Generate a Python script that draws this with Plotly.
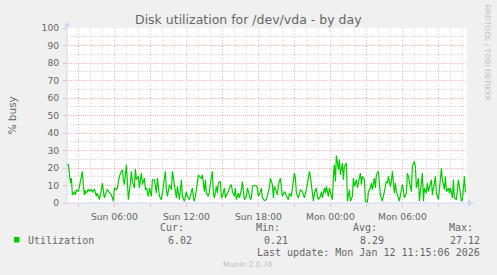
import plotly.graph_objects as go
import pandas as pd

# ---------------- data ----------------
start = pd.Timestamp("2026-01-11 02:00")   # first sample
step_minutes = 5
steps = [0, 2, 4, 5, 6, 8, 9, 10, 12, 13, 14, 16, 17, 18, 19, 20, 22, 23, 25, 26,
         28, 30, 31, 33, 35, 36, 37, 38, 40, 41, 43, 45, 46, 47, 48, 50, 51, 53, 55, 56,
         57, 58, 60, 61, 62, 64, 65, 66, 68, 69, 70, 72, 73, 75, 76, 78, 79, 80, 82, 83,
         85, 86, 88, 90, 91, 93, 95, 96, 98, 99, 100, 101, 103, 105, 106, 110, 111, 113, 115, 116,
         118, 120, 121, 123, 125, 126, 127, 128, 130, 131, 132, 133, 135, 136, 138, 139, 140, 142, 143, 144,
         146, 147, 148, 150, 151, 152, 154, 155, 156, 158, 159, 160, 162, 163, 165, 166, 168, 169, 170, 172,
         173, 175, 176, 177, 178, 180, 181, 182, 184, 185, 186, 188, 190, 191, 192, 194, 195, 196, 198, 200,
         201, 203, 204, 206, 207, 208, 210, 211, 212, 214, 215, 216, 218, 219, 220, 222, 223, 225, 226, 228,
         229, 230, 232, 233, 234, 236, 237, 238, 240, 241, 243, 244, 246, 247, 248, 250, 251, 252, 254, 255,
         256, 258, 259, 260, 262, 263, 265, 266, 267, 268, 269, 270, 272, 273, 274, 276, 277, 278, 280, 281,
         283, 284, 286, 287, 288, 290, 291, 292, 294, 295, 296, 298, 299, 301, 302, 304, 305, 306, 308, 309,
         310, 312, 313, 314, 316, 317, 318, 320, 321, 322, 324, 325, 326, 328, 329, 330, 332, 333, 334, 336,
         337, 338, 340, 341, 342, 344, 345, 346, 348, 349, 350, 352, 353, 354, 356, 357, 358, 360, 361, 362,
         364, 365, 366, 368, 369, 370, 372, 373, 375, 376, 378, 379, 380, 382, 383, 384, 386, 387, 388, 390,
         391, 392, 394, 395, 396, 398, 399]
util = [21.9, 21.9, 11.4, 14.2, 4.6, 6.5, 4.6, 7.6, 6.5, 9.5, 14.2, 18.1, 9.5, 4.6, 7.2, 5.6, 8.0, 6.8, 7.6, 6.1,
        8.0, 3.8, 5.6, 1.9, 7.6, 11.4, 6.5, 2.9, 6.5, 7.6, 6.1, 4.6, 2.9, 1.0, 8.6, 7.6, 8.6, 15.2, 18.1, 19.0,
        13.3, 10.5, 21.9, 10.5, 1.9, 11.4, 18.1, 12.3, 8.6, 19.4, 13.3, 15.2, 8.6, 17.1, 10.5, 14.2, 7.6, 8.6, 3.8, 8.6,
        3.8, 13.3, 13.3, 5.6, 14.2, 3.8, 1.9, 5.6, 13.3, 18.1, 7.6, 3.8, 10.5, 7.6, 18.1, 2.9, 9.5, 1.9, 13.3, 3.8,
        1.0, 6.5, 3.8, 1.9, 6.5, 8.6, 2.9, 1.0, 7.6, 13.3, 16.1, 15.2, 14.2, 16.1, 6.5, 13.3, 5.6, 3.8, 6.5, 11.4,
        18.1, 5.6, 2.9, 9.5, 5.6, 11.4, 12.3, 2.9, 3.8, 8.6, 2.9, 4.6, 6.5, 8.6, 10.5, 6.5, 3.8, 8.6, 1.9, 5.6,
        2.9, 7.6, 12.3, 6.5, 1.9, 3.8, 8.6, 6.5, 1.9, 2.9, 9.5, 10.1, 9.9, 8.6, 3.8, 6.5, 8.6, 2.9, 1.4, 1.9,
        3.8, 8.6, 14.2, 10.5, 2.9, 9.5, 6.5, 4.6, 10.5, 14.2, 8.6, 3.8, 6.5, 5.6, 3.8, 1.9, 5.6, 3.8, 8.6, 17.1,
        14.2, 5.6, 2.9, 4.6, 7.6, 6.5, 3.8, 2.9, 7.6, 10.5, 18.1, 15.2, 3.8, 1.0, 5.6, 8.6, 3.8, 1.9, 3.8, 6.5,
        2.9, 8.6, 5.6, 9.5, 3.8, 8.6, 3.8, 1.9, 15.2, 21.9, 12.3, 27.12, 19.0, 24.8, 16.1, 22.8, 13.3, 20.9, 22.8, 1.0,
        7.6, 1.0, 3.8, 14.2, 9.5, 13.3, 8.6, 11.4, 17.1, 10.5, 15.2, 13.3, 1.0, 0.21, 6.5, 8.6, 11.4, 7.6, 14.2, 8.6,
        16.1, 18.1, 9.5, 4.6, 1.0, 3.8, 6.5, 12.3, 11.4, 15.2, 9.5, 12.3, 18.1, 5.6, 11.4, 6.5, 2.9, 1.0, 4.6, 10.5,
        7.6, 2.9, 5.6, 17.1, 15.2, 8.6, 6.5, 20.9, 23.8, 20.9, 8.6, 14.2, 1.0, 6.5, 17.1, 1.0, 8.6, 5.6, 11.4, 6.5,
        11.4, 13.3, 4.6, 13.3, 15.2, 5.6, 1.9, 7.6, 20.0, 13.3, 7.6, 15.2, 6.5, 8.6, 5.6, 8.6, 2.9, 13.3, 2.9, 1.9,
        6.5, 13.3, 5.6, 1.0, 1.9, 15.2, 6.02]

title = "Disk utilization for /dev/vda - by day"
y_title = "% busy"
series_name = "Utilization"
stat_labels = ["Cur:", "Min:", "Avg:", "Max:"]
stat_values = ["6.02", "0.21", "8.29", "27.12"]
last_update = "Last update: Mon Jan 12 11:15:06 2026"
footer = "Munin 2.0.76"
watermark = "RRDTOOL / TOBI OETIKER"

y_ticks = list(range(0, 101, 10))
x_start = pd.Timestamp("2026-01-11 02:03")
x_end = x_start + pd.Timedelta(minutes=2000)
major_times = pd.date_range("2026-01-11 03:00", "2026-01-12 09:00", freq="3h")
tick_text = [t.strftime("%a %H:%M") if t.hour % 6 == 0 else "" for t in major_times]

# ---------------- layout helpers ----------------
W, H = 497, 275
L, R, T, B = 67, 30, 28, 72
PW, PH = W - L - R, H - T - B


def px(x):
    return (x - L) / PW


def py(y):
    return (H - B - y) / PH


FONT = "DejaVu Sans"
MONO = "DejaVu Sans Mono"
FC = "#666666"
RED = "#f6b8b8"
GRAY = "#d8d8d8"
AXIS = "#CFD6F8"
GREEN = "#00CC00"

times = start + pd.to_timedelta([s * step_minutes for s in steps], unit="min")

fig = go.Figure()
fig.add_trace(go.Scatter(x=times, y=util, mode="lines",
                         line=dict(color=GREEN, width=1.2), name=series_name,
                         showlegend=False, hoverinfo="skip"))

fig.update_layout(
    width=W, height=H, margin=dict(l=L, r=R, t=T, b=B, pad=0),
    paper_bgcolor="#F0F0F0", plot_bgcolor="#FFFFFF",
    font=dict(family=FONT, size=9.2, color=FC),
    showlegend=False,
)

fig.update_xaxes(
    type="date", range=[x_start, x_end],
    tickmode="array", tickvals=major_times, ticktext=tick_text,
    showgrid=True, gridcolor=RED, griddash="1px,2px", gridwidth=1,
    ticks="outside", ticklen=3, tickcolor=RED, tickwidth=1,
    minor=dict(tickmode="linear", tick0="2026-01-11 00:00", dtick=3600000,
               showgrid=True, gridcolor=GRAY, griddash="1px,2px", gridwidth=1,
               ticks=""),
    showline=False, zeroline=False,
    tickfont=dict(family=FONT, size=9.2, color=FC),
    ticklabelstandoff=2,
)
fig.update_yaxes(
    range=[0, 100], tickmode="array", tickvals=y_ticks,
    ticktext=[str(v) for v in y_ticks],
    showgrid=True, gridcolor=RED, griddash="1px,1px", gridwidth=1,
    ticks="outside", ticklen=3, tickcolor=RED, tickwidth=1,
    minor=dict(tickmode="linear", tick0=0, dtick=5, showgrid=True,
               gridcolor=GRAY, griddash="1px,1px", gridwidth=1, ticks=""),
    showline=False, zeroline=False,
    tickfont=dict(family=FONT, size=9.2, color=FC),
    ticklabelstandoff=2,
)

shapes = [
    # axes
    dict(type="line", xref="paper", yref="paper", x0=px(67), x1=px(67), y0=py(203), y1=py(25),
         line=dict(color=AXIS, width=1), layer="above"),
    dict(type="line", xref="paper", yref="paper", x0=px(67), x1=px(469), y0=py(203), y1=py(203),
         line=dict(color=AXIS, width=1), layer="above"),
    # arrows
    dict(type="path", xref="paper", yref="paper",
         path=f"M {px(63.5)} {py(26.5)} L {px(70.5)} {py(26.5)} L {px(67)} {py(21.5)} Z",
         fillcolor=AXIS, line=dict(width=0), layer="above"),
    dict(type="path", xref="paper", yref="paper",
         path=f"M {px(468)} {py(199.5)} L {px(468)} {py(206.5)} L {px(473.5)} {py(203)} Z",
         fillcolor=AXIS, line=dict(width=0), layer="above"),
    # legend swatch
    dict(type="rect", xref="paper", yref="paper", x0=px(14), x1=px(19.5), y0=py(237), y1=py(242.5),
         fillcolor=GREEN, line=dict(width=0)),
]
fig.update_layout(shapes=shapes)

ann = []
ann.append(dict(text=title, x=px(248), y=py(19.5), xref="paper", yref="paper",
                xanchor="center", yanchor="middle", showarrow=False,
                font=dict(family=FONT, size=12.5, color=FC)))
ann.append(dict(text=y_title, x=px(11), y=py(115.5), xref="paper", yref="paper",
                xanchor="center", yanchor="middle", textangle=-90, showarrow=False,
                font=dict(family=FONT, size=10.5, color=FC)))
ann.append(dict(text=watermark, x=px(487.5), y=py(53), xref="paper", yref="paper",
                xanchor="center", yanchor="middle", textangle=90, showarrow=False,
                font=dict(family=FONT, size=7.5, color="#c0c0c0")))
ann.append(dict(text=series_name, x=px(26), y=py(240), xref="paper", yref="paper",
                xanchor="left", yanchor="middle", showarrow=False,
                font=dict(family=MONO, size=10, color=FC)))
label_left = [158.3, 254.3, 351, 446.7]
value_right = [194, 290, 386, 482.3]
for lab, xl in zip(stat_labels, label_left):
    ann.append(dict(text=lab, x=px(xl), y=py(227.5), xref="paper", yref="paper",
                    xanchor="left", yanchor="middle", showarrow=False,
                    font=dict(family=MONO, size=10, color=FC)))
for val, xr in zip(stat_values, value_right):
    ann.append(dict(text=val, x=px(xr), y=py(240), xref="paper", yref="paper",
                    xanchor="right", yanchor="middle", showarrow=False,
                    font=dict(family=MONO, size=10, color=FC)))
ann.append(dict(text=last_update, x=px(482.3), y=py(252), xref="paper", yref="paper",
                xanchor="right", yanchor="middle", showarrow=False,
                font=dict(family=MONO, size=10, color=FC)))
ann.append(dict(text=footer, x=px(248), y=py(264), xref="paper", yref="paper",
                xanchor="center", yanchor="middle", showarrow=False,
                font=dict(family=FONT, size=7.6, color="#c0c0c0")))
fig.update_layout(annotations=ann)

fig.write_html("out.html")
